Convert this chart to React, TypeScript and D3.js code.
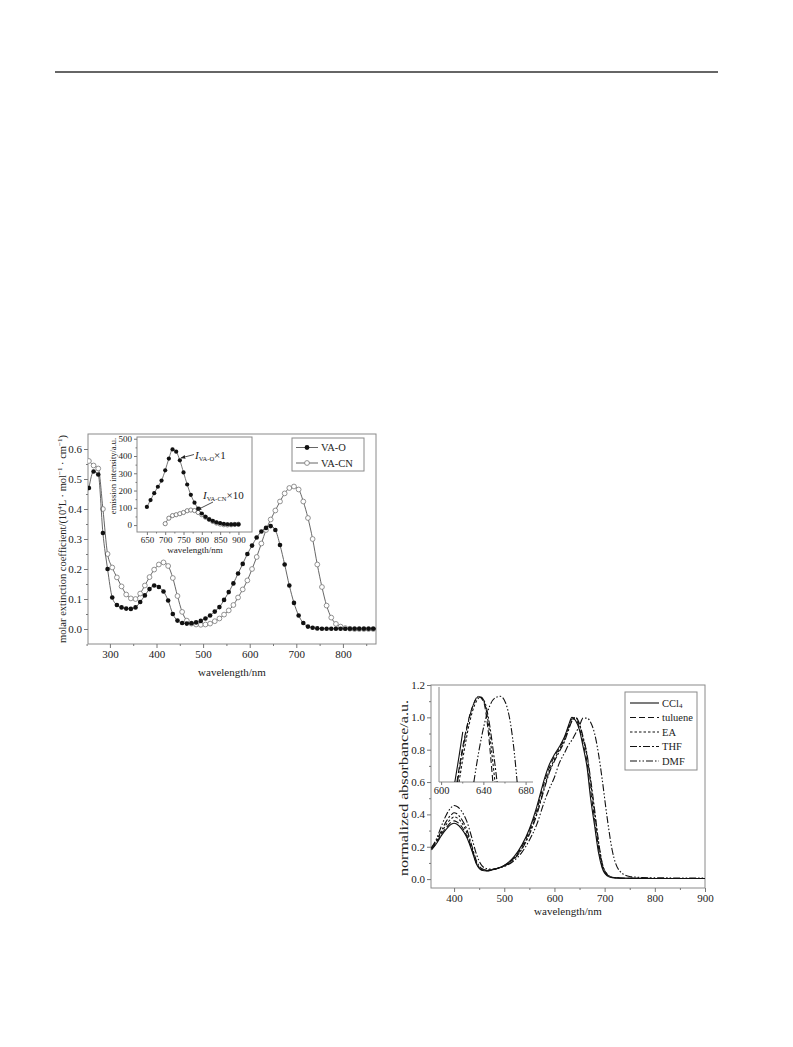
"use client";

import { useEffect, useRef } from "react";
import * as d3 from "d3";

const serif = "'Liberation Serif', 'Times New Roman', serif";

// left figure: molar extinction coefficient (10^4 L/mol/cm) of VA-O and VA-CN
const absWavelength = [
  255, 265, 275, 285, 295, 305, 315, 325, 335, 345, 355, 365, 375, 385, 395, 405,
  415, 425, 435, 445, 455, 465, 475, 485, 495, 505, 515, 525, 535, 545, 555, 565,
  575, 585, 595, 605, 615, 625, 635, 645, 655, 665, 675, 685, 695, 705, 715, 725,
  735, 745, 755, 765, 775, 785, 795, 805, 815, 825, 835, 845, 855, 865, 875,
];
const absVAO = [
  0.47, 0.525, 0.515, 0.32, 0.2, 0.105, 0.08, 0.072, 0.068, 0.067, 0.072, 0.09, 0.112, 0.133, 0.145, 0.14,
  0.125, 0.095, 0.05, 0.028, 0.02, 0.018, 0.019, 0.022, 0.027, 0.035, 0.045, 0.058, 0.073, 0.097, 0.123, 0.152,
  0.185, 0.217, 0.25, 0.278, 0.305, 0.325, 0.337, 0.343, 0.33, 0.28, 0.215, 0.145, 0.087, 0.045, 0.02, 0.008,
  0.004, 0.002, 0.001, 0.001, 0.001, 0.001, 0.001, 0.001, 0.001, 0.001, 0.001, 0.001, 0.001, 0.001, 0.001,
];
const absVACN = [
  0.56, 0.545, 0.535, 0.4, 0.25, 0.205, 0.172, 0.142, 0.115, 0.102, 0.1, 0.118, 0.145, 0.173, 0.198, 0.215,
  0.222, 0.21, 0.17, 0.11, 0.057, 0.028, 0.018, 0.015, 0.014, 0.015, 0.018, 0.026, 0.035, 0.048, 0.062, 0.08,
  0.105, 0.132, 0.162, 0.2, 0.24, 0.285, 0.33, 0.365, 0.395, 0.425, 0.452, 0.47, 0.475, 0.465, 0.425, 0.37,
  0.3, 0.215, 0.14, 0.078, 0.038, 0.017, 0.008, 0.003, 0.001, 0, 0, 0, 0, 0, 0,
];

// left inset: emission intensity (a.u.)
const emWavelengthO = [
  650, 660, 670, 680, 690, 700, 710, 720, 730, 740, 750, 760, 770, 780, 790, 800,
  810, 820, 830, 840, 850, 860, 870, 880, 890, 900,
];
const emVAO = [
  105, 145, 185, 222, 258, 317, 385, 438, 425, 375, 305, 235, 175, 130, 95, 67,
  48, 33, 24, 16, 11, 7, 5, 4, 4, 4,
];
const emWavelengthCN = [
  700, 710, 720, 730, 740, 750, 760, 770, 780, 790, 800, 810, 820, 830, 840, 850,
  860, 870, 880, 890, 900,
];
const emVACN = [
  8, 40, 55, 60, 66, 73, 83, 87, 84, 73, 60, 46, 33, 21, 12, 6, 2, 1, 2, 4, 5,
];

// right figure: normalized absorbance in five solvents
const solvWavelength = [
  355, 365, 375, 385, 395, 400, 405, 415, 425, 435, 445, 455, 465, 475, 490, 505,
  520, 535, 550, 565, 580, 590, 600, 610, 620, 628, 635, 642, 650, 657, 665, 672,
  680, 688, 695, 705, 715, 730, 750, 775, 800, 850, 900,
];
const absCCl4 = [
  0.18, 0.22, 0.27, 0.31, 0.34, 0.345, 0.34, 0.31, 0.26, 0.18, 0.09, 0.055, 0.05, 0.056, 0.07, 0.095,
  0.14, 0.21, 0.31, 0.45, 0.62, 0.71, 0.77, 0.82, 0.88, 0.95, 1.0, 0.98, 0.92, 0.82, 0.69, 0.5,
  0.33, 0.16, 0.07, 0.02, 0.008, 0.005, 0.005, 0.004, 0.004, 0.004, 0.004,
];
const absTuluene = [
  0.185, 0.225, 0.28, 0.32, 0.355, 0.36, 0.355, 0.325, 0.27, 0.19, 0.095, 0.058, 0.052, 0.057, 0.07, 0.093,
  0.135, 0.2, 0.3, 0.43, 0.6, 0.69, 0.76, 0.81, 0.87, 0.94, 0.99, 0.99, 0.93, 0.84, 0.72, 0.55,
  0.37, 0.19, 0.08, 0.025, 0.01, 0.006, 0.005, 0.004, 0.004, 0.004, 0.004,
];
const absEA = [
  0.19, 0.235, 0.29, 0.34, 0.375, 0.385, 0.38, 0.35, 0.29, 0.2, 0.1, 0.06, 0.054, 0.058, 0.07, 0.09,
  0.13, 0.19, 0.285, 0.41, 0.57, 0.67, 0.74, 0.8, 0.86, 0.93, 0.98, 1.0, 0.95, 0.87, 0.76, 0.6,
  0.41, 0.22, 0.1, 0.03, 0.012, 0.007, 0.005, 0.005, 0.004, 0.004, 0.004,
];
const absTHF = [
  0.19, 0.24, 0.3, 0.36, 0.4, 0.41, 0.405, 0.37, 0.31, 0.21, 0.11, 0.065, 0.056, 0.058, 0.068, 0.088,
  0.125, 0.185, 0.275, 0.4, 0.56, 0.66, 0.73, 0.79, 0.85, 0.92, 0.98, 1.0, 0.96, 0.88, 0.77, 0.62,
  0.43, 0.23, 0.1, 0.03, 0.012, 0.007, 0.005, 0.005, 0.004, 0.004, 0.004,
];
const absDMF = [
  0.195, 0.25, 0.33, 0.4, 0.445, 0.455, 0.45, 0.42, 0.36, 0.26, 0.15, 0.085, 0.065, 0.062, 0.07, 0.085,
  0.115, 0.165, 0.24, 0.34, 0.48, 0.56, 0.63, 0.72, 0.78, 0.83, 0.86, 0.9, 0.95, 0.995, 0.995, 0.97,
  0.9, 0.77, 0.62, 0.38, 0.18, 0.05, 0.016, 0.01, 0.008, 0.007, 0.006,
];
const solventNames = ["CCl", "tuluene", "EA", "THF", "DMF"];
const solventDash = ["", "6,3", "2.5,2", "7,2,2,2", "7,2,1.5,2,1.5,2"];

// right inset: enlarged view of the main band
const insetWlCCl4 = [613, 617, 620.5];
const insetCCl4 = [0.6, 0.76, 0.91];
const insetWlTuluene = [615, 620, 625, 630, 635, 640, 644, 647, 649];
const insetTuluene = [0.6, 0.8, 0.96, 1.07, 1.13, 1.1, 0.95, 0.75, 0.6];
const insetWlEA = [617, 622, 627, 632, 637, 641, 645, 648, 651];
const insetEA = [0.6, 0.8, 0.97, 1.08, 1.125, 1.09, 0.95, 0.78, 0.6];
const insetWlTHF = [615.5, 620, 625, 630, 636, 641, 646, 650, 653];
const insetTHF = [0.6, 0.78, 0.95, 1.07, 1.13, 1.1, 0.95, 0.76, 0.6];
const insetWlDMF = [631, 636, 641, 646, 651, 656, 661, 666, 669, 672];
const insetDMF = [0.6, 0.8, 0.96, 1.07, 1.12, 1.13, 1.09, 0.95, 0.8, 0.6];

type G = d3.Selection<SVGGElement, unknown, null, undefined>;
type Lin = d3.ScaleLinear<number, number>;

function xAxis(g: G, x: Lin, y0: number, major: number[], minor: number[], size: number, fs: number, fmt: (d: number) => string) {
  const a = g
    .append("g")
    .attr("transform", `translate(0,${y0})`)
    .call(d3.axisBottom(x).tickValues(major).tickSize(size).tickSizeOuter(0).tickPadding(2).tickFormat((d) => fmt(+d)));
  a.attr("font-family", serif).attr("font-size", fs);
  a.select(".domain").remove();
  a.selectAll(".tick line").attr("stroke", "#777");
  a.selectAll(".tick text").attr("fill", "#222");
  const m = g
    .append("g")
    .attr("transform", `translate(0,${y0})`)
    .call(d3.axisBottom(x).tickValues(minor).tickSize(size / 2).tickSizeOuter(0).tickFormat(() => ""));
  m.select(".domain").remove();
  m.selectAll(".tick line").attr("stroke", "#777");
}

function yAxis(g: G, y: Lin, x0: number, major: number[], minor: number[], size: number, fs: number, fmt: (d: number) => string) {
  const a = g
    .append("g")
    .attr("transform", `translate(${x0},0)`)
    .call(d3.axisLeft(y).tickValues(major).tickSize(size).tickSizeOuter(0).tickPadding(2).tickFormat((d) => fmt(+d)));
  a.attr("font-family", serif).attr("font-size", fs);
  a.select(".domain").remove();
  a.selectAll(".tick line").attr("stroke", "#777");
  a.selectAll(".tick text").attr("fill", "#222");
  const m = g
    .append("g")
    .attr("transform", `translate(${x0},0)`)
    .call(d3.axisLeft(y).tickValues(minor).tickSize(size / 2).tickSizeOuter(0).tickFormat(() => ""));
  m.select(".domain").remove();
  m.selectAll(".tick line").attr("stroke", "#777");
}

function frame(g: G, x: Lin, y: Lin) {
  const [x0, x1] = x.range();
  const [y0, y1] = y.range();
  g.append("rect")
    .attr("x", x0)
    .attr("y", y1)
    .attr("width", x1 - x0)
    .attr("height", y0 - y1)
    .attr("fill", "#fff")
    .attr("stroke", "#8a8a8a")
    .attr("stroke-width", 1);
}

function pairs(xs: number[], ys: number[]): [number, number][] {
  return xs.map((d, i) => [d, ys[i]]);
}

const App: React.FC = () => {
  const ref = useRef<SVGSVGElement>(null);

  useEffect(() => {
    if (!ref.current) return;
    const svg = d3.select(ref.current);
    svg.selectAll("*").remove();
    svg.attr("font-family", serif);

    const defs = svg.append("defs");
    defs
      .append("marker")
      .attr("id", "arrow")
      .attr("viewBox", "0 0 10 10")
      .attr("refX", 9)
      .attr("refY", 5)
      .attr("markerWidth", 6)
      .attr("markerHeight", 6)
      .attr("orient", "auto")
      .append("path")
      .attr("d", "M0,1L10,5L0,9Z")
      .attr("fill", "#222");
    defs
      .append("clipPath")
      .attr("id", "clipL")
      .append("rect")
      .attr("x", 88)
      .attr("y", 434)
      .attr("width", 288)
      .attr("height", 210);

    // page rule
    svg.append("line").attr("x1", 55).attr("x2", 718).attr("y1", 72).attr("y2", 72).attr("stroke", "#333").attr("stroke-width", 1.4);

    // ---------- left chart ----------
    const L = svg.append("g");
    const x = d3.scaleLinear().domain([253, 871]).range([88, 376]);
    const y = d3.scaleLinear().domain([-0.05, 0.65]).range([644, 434]);
    frame(L, x, y);
    xAxis(L, x, 644, [300, 400, 500, 600, 700, 800], [250, 350, 450, 550, 650, 750, 850], 4, 11, d3.format("d"));
    yAxis(L, y, 88, [0, 0.1, 0.2, 0.3, 0.4, 0.5, 0.6], [0.05, 0.15, 0.25, 0.35, 0.45, 0.55], 4, 11, d3.format(".1f"));

    const line = d3
      .line<[number, number]>()
      .x((d) => x(d[0]))
      .y((d) => y(d[1]))
      .curve(d3.curveMonotoneX);
    const plotL = L.append("g").attr("clip-path", "url(#clipL)");
    const cn = pairs(absWavelength, absVACN);
    const vo = pairs(absWavelength, absVAO);
    plotL.append("path").attr("d", line(cn)).attr("fill", "none").attr("stroke", "#555").attr("stroke-width", 0.9);
    plotL
      .selectAll("circle.cn")
      .data(cn)
      .join("circle")
      .attr("class", "cn")
      .attr("cx", (d) => x(d[0]))
      .attr("cy", (d) => y(d[1]))
      .attr("r", 2.4)
      .attr("fill", "#fff")
      .attr("stroke", "#777")
      .attr("stroke-width", 0.8);
    plotL.append("path").attr("d", line(vo)).attr("fill", "none").attr("stroke", "#555").attr("stroke-width", 0.9);
    plotL
      .selectAll("circle.vo")
      .data(vo)
      .join("circle")
      .attr("class", "vo")
      .attr("cx", (d) => x(d[0]))
      .attr("cy", (d) => y(d[1]))
      .attr("r", 2.3)
      .attr("fill", "#111");

    const yl = L.append("text")
      .attr("transform", "translate(66,539) rotate(-90)")
      .attr("text-anchor", "middle")
      .attr("font-size", 10.5)
      .attr("fill", "#222");
    yl.append("tspan").text("molar extinction coefficient/(10");
    yl.append("tspan").attr("font-size", 7).attr("dy", -4).text("4");
    yl.append("tspan").attr("dy", 4).text("L · mol");
    yl.append("tspan").attr("font-size", 7).attr("dy", -4).text("−1");
    yl.append("tspan").attr("dy", 4).text(" · cm");
    yl.append("tspan").attr("font-size", 7).attr("dy", -4).text("−1");
    yl.append("tspan").attr("dy", 4).text(")");
    L.append("text").attr("x", 232).attr("y", 676).attr("text-anchor", "middle").attr("font-size", 11).attr("fill", "#222").text("wavelength/nm");

    // legend
    const legL = L.append("g");
    legL.append("rect").attr("x", 292).attr("y", 438).attr("width", 72).attr("height", 33).attr("fill", "#fff").attr("stroke", "#8a8a8a");
    [
      { name: "VA-O", filled: true, yy: 447.5 },
      { name: "VA-CN", filled: false, yy: 463 },
    ].forEach((e) => {
      legL.append("line").attr("x1", 296).attr("x2", 318).attr("y1", e.yy).attr("y2", e.yy).attr("stroke", "#555").attr("stroke-width", 0.9);
      legL
        .append("circle")
        .attr("cx", 307)
        .attr("cy", e.yy)
        .attr("r", 2.4)
        .attr("fill", e.filled ? "#111" : "#fff")
        .attr("stroke", e.filled ? "none" : "#777")
        .attr("stroke-width", 0.8);
      legL.append("text").attr("x", 321).attr("y", e.yy + 3.5).attr("font-size", 10.5).attr("fill", "#222").text(e.name);
    });

    // inset: emission
    const ix = d3.scaleLinear().domain([623, 937]).range([137, 252]);
    const iy = d3.scaleLinear().domain([-40, 510]).range([532, 437]);
    const I = L.append("g");
    frame(I, ix, iy);
    xAxis(I, ix, 532, [650, 700, 750, 800, 850, 900], [675, 725, 775, 825, 875], 3, 9, d3.format("d"));
    yAxis(I, iy, 137, [0, 100, 200, 300, 400, 500], [50, 150, 250, 350, 450], 3, 9, d3.format("d"));
    const iline = d3
      .line<[number, number]>()
      .x((d) => ix(d[0]))
      .y((d) => iy(d[1]))
      .curve(d3.curveMonotoneX);
    const ecn = pairs(emWavelengthCN, emVACN);
    const eo = pairs(emWavelengthO, emVAO);
    I.append("path").attr("d", iline(ecn)).attr("fill", "none").attr("stroke", "#555").attr("stroke-width", 0.8);
    I.selectAll("circle.ecn")
      .data(ecn)
      .join("circle")
      .attr("class", "ecn")
      .attr("cx", (d) => ix(d[0]))
      .attr("cy", (d) => iy(d[1]))
      .attr("r", 2.1)
      .attr("fill", "#fff")
      .attr("stroke", "#666")
      .attr("stroke-width", 0.8);
    I.append("path").attr("d", iline(eo)).attr("fill", "none").attr("stroke", "#555").attr("stroke-width", 0.8);
    I.selectAll("circle.eo")
      .data(eo)
      .join("circle")
      .attr("class", "eo")
      .attr("cx", (d) => ix(d[0]))
      .attr("cy", (d) => iy(d[1]))
      .attr("r", 2.1)
      .attr("fill", "#111");
    I.append("text")
      .attr("transform", "translate(116,476) rotate(-90)")
      .attr("text-anchor", "middle")
      .attr("font-size", 8.5)
      .attr("fill", "#222")
      .text("emission intensity/a.u.");
    I.append("text").attr("x", 195).attr("y", 553).attr("text-anchor", "middle").attr("font-size", 9).attr("fill", "#222").text("wavelength/nm");

    const a1 = I.append("text").attr("x", 195).attr("y", 459).attr("font-size", 11).attr("fill", "#222");
    a1.append("tspan").attr("font-style", "italic").text("I");
    a1.append("tspan").attr("font-size", 6.5).attr("dy", 2).text("VA-O");
    a1.append("tspan").attr("dy", -2).text("×1");
    I.append("line").attr("x1", 194).attr("y1", 454.5).attr("x2", 181).attr("y2", 458).attr("stroke", "#222").attr("stroke-width", 0.8).attr("marker-end", "url(#arrow)");
    const a2 = I.append("text").attr("x", 203).attr("y", 499).attr("font-size", 11).attr("fill", "#222");
    a2.append("tspan").attr("font-style", "italic").text("I");
    a2.append("tspan").attr("font-size", 6.5).attr("dy", 2).text("VA-CN");
    a2.append("tspan").attr("dy", -2).text("×10");
    I.append("line").attr("x1", 213).attr("y1", 502).attr("x2", 197).attr("y2", 510).attr("stroke", "#222").attr("stroke-width", 0.8).attr("marker-end", "url(#arrow)");

    // ---------- right chart ----------
    const R = svg.append("g");
    const rx = d3.scaleLinear().domain([354, 900]).range([431, 705]);
    const ry = d3.scaleLinear().domain([-0.055, 1.2]).range([888, 685]);
    frame(R, rx, ry);
    xAxis(R, rx, 888, [400, 500, 600, 700, 800, 900], [450, 550, 650, 750, 850], 4, 11, d3.format("d"));
    yAxis(R, ry, 431, [0, 0.2, 0.4, 0.6, 0.8, 1.0, 1.2], [0.1, 0.3, 0.5, 0.7, 0.9, 1.1], 4, 11, d3.format(".1f"));

    const rline = d3
      .line<[number, number]>()
      .x((d) => rx(d[0]))
      .y((d) => ry(d[1]))
      .curve(d3.curveMonotoneX);
    const series = [absCCl4, absTuluene, absEA, absTHF, absDMF];
    series.forEach((s, i) => {
      R.append("path")
        .attr("d", rline(pairs(solvWavelength, s)))
        .attr("fill", "none")
        .attr("stroke", "#111")
        .attr("stroke-width", 1.1)
        .attr("stroke-dasharray", solventDash[i] || null);
    });

    R.append("text")
      .attr("transform", "translate(408,788) rotate(-90)")
      .attr("text-anchor", "middle")
      .attr("font-size", 13)
      .attr("textLength", 176)
      .attr("lengthAdjust", "spacingAndGlyphs")
      .attr("fill", "#222")
      .text("normalized absorbance/a.u.");
    R.append("text").attr("x", 568).attr("y", 915).attr("text-anchor", "middle").attr("font-size", 11).attr("fill", "#222").text("wavelength/nm");

    // inset: zoom on main band
    const rix = d3.scaleLinear().domain([598, 687]).range([439, 533]);
    const riy = d3.scaleLinear().domain([0.6, 1.2]).range([782, 685]);
    const RI = R.append("g");
    RI.append("line").attr("x1", 439).attr("x2", 439).attr("y1", 687).attr("y2", 782).attr("stroke", "#8a8a8a");
    RI.append("line").attr("x1", 439).attr("x2", 533).attr("y1", 782).attr("y2", 782).attr("stroke", "#8a8a8a");
    xAxis(RI, rix, 782, [600, 640, 680], [620, 660], 3, 10.5, d3.format("d"));
    const riline = d3
      .line<[number, number]>()
      .x((d) => rix(d[0]))
      .y((d) => riy(d[1]))
      .curve(d3.curveMonotoneX);
    const insetSeries: [number[], number[]][] = [
      [insetWlCCl4, insetCCl4],
      [insetWlTuluene, insetTuluene],
      [insetWlEA, insetEA],
      [insetWlTHF, insetTHF],
      [insetWlDMF, insetDMF],
    ];
    insetSeries.forEach(([wl, v], i) => {
      RI.append("path")
        .attr("d", riline(pairs(wl, v)))
        .attr("fill", "none")
        .attr("stroke", "#111")
        .attr("stroke-width", 1.1)
        .attr("stroke-dasharray", solventDash[i] || null);
    });

    // legend
    const legR = R.append("g");
    legR.append("rect").attr("x", 625).attr("y", 692).attr("width", 72).attr("height", 78).attr("fill", "#fff").attr("stroke", "#8a8a8a");
    solventNames.forEach((name, i) => {
      const yy = 703 + i * 14.5;
      legR
        .append("line")
        .attr("x1", 630)
        .attr("x2", 659)
        .attr("y1", yy)
        .attr("y2", yy)
        .attr("stroke", "#111")
        .attr("stroke-width", 1.1)
        .attr("stroke-dasharray", solventDash[i] || null);
      const t = legR.append("text").attr("x", 662).attr("y", yy + 3.5).attr("font-size", 10.5).attr("fill", "#222");
      t.append("tspan").text(name);
      if (i === 0) t.append("tspan").attr("font-size", 7).attr("dy", 1.5).text("4");
    });
  }, []);

  return (
    <svg
      ref={ref}
      width={793}
      height={1047}
      style={{ position: "absolute", left: 0, top: 0, background: "#fff" }}
    />
  );
};

export default App;
